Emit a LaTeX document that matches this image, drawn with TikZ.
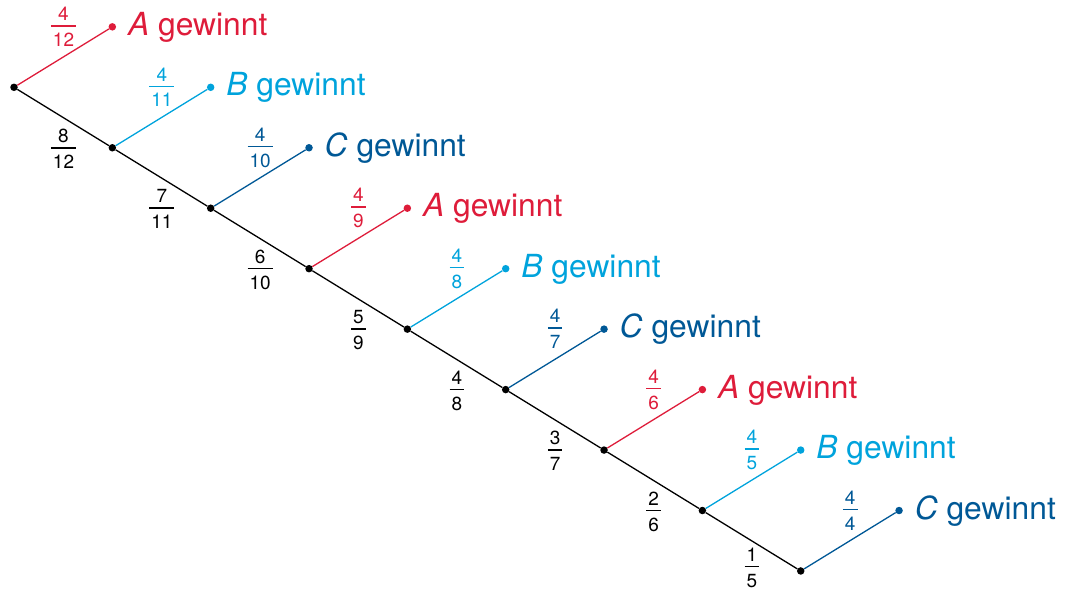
\documentclass[tikz,border=0pt]{standalone}
\usepackage{fontspec}
\setmainfont{TeX Gyre Heros}
\definecolor{cR}{RGB}{222,28,58}
\definecolor{cL}{RGB}{0,163,220}
\definecolor{cD}{RGB}{0,88,150}
\newcommand{\fr}[2]{{\renewcommand\arraystretch{0}\setlength\arrayrulewidth{1.5pt}%
\begin{tabular}{@{\hspace{2pt}}c@{\hspace{2pt}}}\rule[-4.5pt]{0pt}{14pt}#1\\\hline\rule{0pt}{19.8pt}#2\end{tabular}}}
\tikzset{
  dot/.style={circle,fill=black,inner sep=0pt,minimum size=7.5pt},
  branch/.style={line width=1.3pt},
  frac/.style={inner sep=0pt,font=\fontsize{19}{22}\selectfont},
  lbl/.style={anchor=base west,inner sep=0pt,font=\fontsize{31.8}{36}\selectfont}
}
\begin{document}
\begin{tikzpicture}[x=1pt,y=-1pt]
\useasboundingbox (0,0) rectangle (1066,591);
\def\dx{98.34}
\def\dy{60.46}
\foreach \i/\c/\L in {0/cR/A,1/cL/B,2/cD/C,3/cR/A,4/cL/B,5/cD/C,6/cR/A,7/cL/B,8/cD/C}{
  \node[dot] (n\i) at ({14+\dx*\i},{87.3+\dy*\i}) {};
  \node[dot,fill=\c] (l\i) at ({14+\dx*(\i+1)},{87.3+\dy*(\i-1)}) {};
  \draw[branch,\c] (n\i) -- (l\i);
  \node[lbl,text=\c] (t\i) at ([shift={(15.5,8.5)}]l\i.center) {\textit{\L} gewinnt};
  \pgfmathtruncatemacro\den{12-\i}
  \node[frac,text=\c] (u\i) at ([shift={(49.5,-60.5)}]n\i.center) {\fr{4}{\den}};
}
\foreach \i/\s in {0/61.5,1/61.5,2/61.5,3/61.5,4/61.5,5/61.5,6/61.5,7/57}{
  \pgfmathtruncatemacro\j{\i+1}
  \pgfmathtruncatemacro\den{12-\i}
  \pgfmathtruncatemacro\num{8-\i}
  \draw[branch,black] (n\i) -- (n\j);
  \node[frac] (d\i) at ([shift={(49.5,\s)}]n\i.center) {\fr{\num}{\den}};
}
\end{tikzpicture}
\end{document}
